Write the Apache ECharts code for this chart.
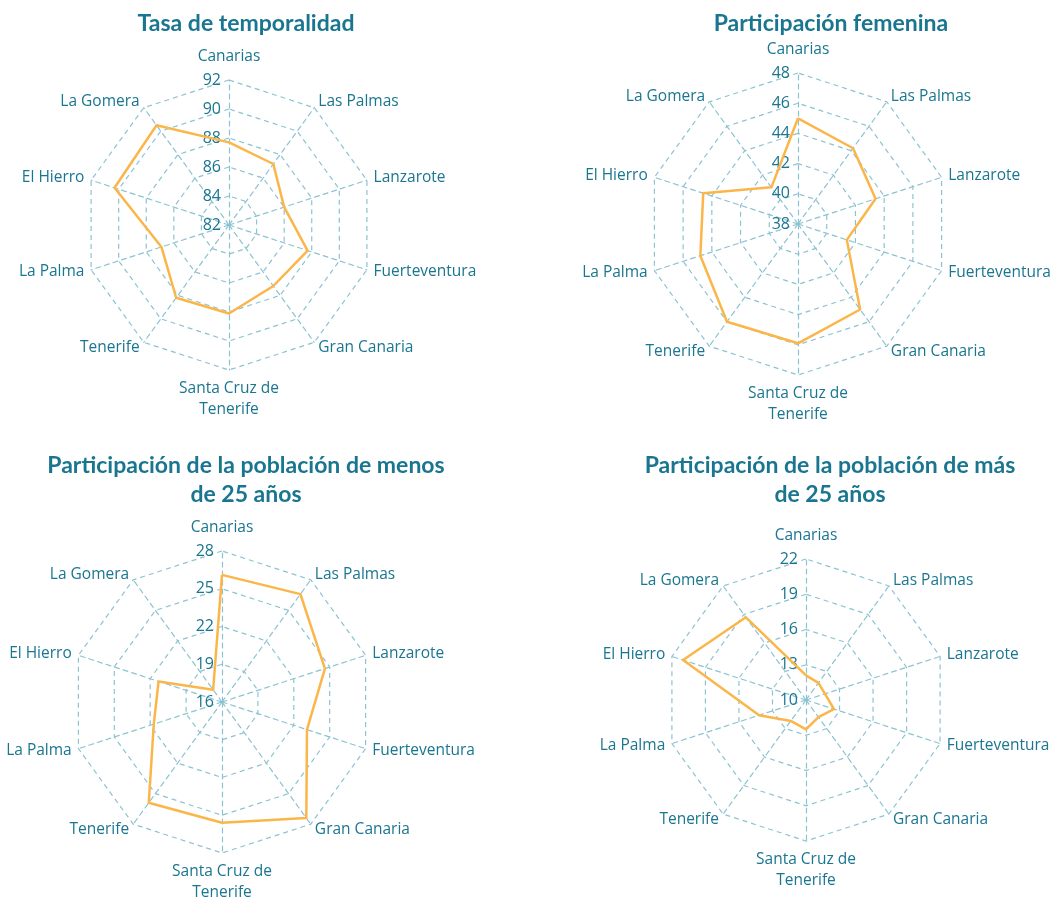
<!DOCTYPE html>
<html lang="es">
<head>
<meta charset="UTF-8">
<title>Mercado laboral en Canarias</title>
<script src="https://cdn.jsdelivr.net/npm/echarts@6/dist/echarts.min.js"></script>
<style>
  html, body { margin: 0; padding: 0; background: #fff; }
  #container { width: 1053px; height: 899px; }
</style>
</head>
<body>
<div id="container"></div>
<script>
// islands, clockwise starting at the top
const islands = ['Canarias', 'Las Palmas', 'Lanzarote', 'Fuerteventura', 'Gran Canaria',
  'Santa Cruz de\nTenerife', 'Tenerife', 'La Palma', 'El Hierro', 'La Gomera'];

const temporalidad = [87.7, 87.2, 86.0, 87.7, 87.2, 88.1, 88.2, 86.9, 90.3, 90.5];
const femenina = [45.0, 44.2, 43.4, 41.4, 45.0, 45.9, 46.0, 44.8, 44.6, 41.0];
const menos25 = [26.1, 26.6, 24.6, 23.1, 27.4, 25.6, 25.9, 21.7, 21.3, 17.2];
const mas25 = [12.1, 11.8, 11.7, 12.5, 11.8, 12.5, 12.2, 14.2, 21.0, 18.7];

const ticksTemporalidad = [82, 84, 86, 88, 90, 92];
const ticksFemenina = [38, 40, 42, 44, 46, 48];
const ticksMenos25 = [16, 19, 22, 25, 28];
const ticksMas25 = [10, 13, 16, 19, 22];

const titles = [
  'Tasa de temporalidad',
  'Participación femenina',
  'Participación de la población de menos\nde 25 años',
  'Participación de la población de más\nde 25 años'
];

const teal = '#1a7690';
const gridColor = '#8cc3d2';
const lineColor = '#fbb64a';
const font = 'Open Sans';

// echarts lays indicators out counter-clockwise, so walk the list backwards
const order = [0, 9, 8, 7, 6, 5, 4, 3, 2, 1];

const panels = [
  { values: temporalidad, ticks: ticksTemporalidad, center: [229, 225], radius: 145, titlePos: [241, 4] },
  { values: femenina, ticks: ticksFemenina, center: [798, 224], radius: 151, titlePos: [826, 4] },
  { values: menos25, ticks: ticksMenos25, center: [222, 702], radius: 151, titlePos: [241, 446] },
  { values: mas25, ticks: ticksMas25, center: [806, 700], radius: 141, titlePos: [825, 446] }
];

const myChart = echarts.init(document.getElementById('container'));

const option = {
  backgroundColor: '#fff',
  animation: false,
  title: panels.map((p, i) => ({
    text: titles[i],
    left: p.titlePos[0],
    top: p.titlePos[1],
    textAlign: 'center',
    textStyle: {
      color: teal,
      fontFamily: 'Lato',
      fontWeight: 'bold',
      fontSize: 23,
      lineHeight: 29
    }
  })),
  radar: panels.map((p) => {
    const min = p.ticks[0];
    const max = p.ticks[p.ticks.length - 1];
    return {
      center: p.center,
      radius: p.radius,
      startAngle: 90,
      shape: 'polygon',
      splitNumber: p.ticks.length - 1,
      nameGap: 7,
      indicator: order.map((k, j) => {
        const ind = { name: islands[k], min: min, max: max };
        if (j === 0) {
          ind.axisLabel = {
            show: true,
            color: teal,
            fontFamily: font,
            fontSize: 16,
            margin: 8
          };
        }
        return ind;
      }),
      axisName: {
        color: teal,
        fontFamily: font,
        fontSize: 15.5,
        lineHeight: 21,
        padding: [1, 0, 5, 0]
      },
      axisLine: { lineStyle: { color: gridColor, type: [5, 4], width: 1.2 } },
      splitLine: { lineStyle: { color: gridColor, type: [5, 4], width: 1.2 } },
      splitArea: { show: false },
      axisTick: { show: false },
      axisLabel: { show: false }
    };
  }),
  series: panels.map((p, i) => ({
    type: 'radar',
    radarIndex: i,
    symbol: 'none',
    lineStyle: { color: lineColor, width: 2.5 },
    data: [{ value: order.map((k) => p.values[k]) }]
  }))
};

myChart.setOption(option);
</script>
</body>
</html>
